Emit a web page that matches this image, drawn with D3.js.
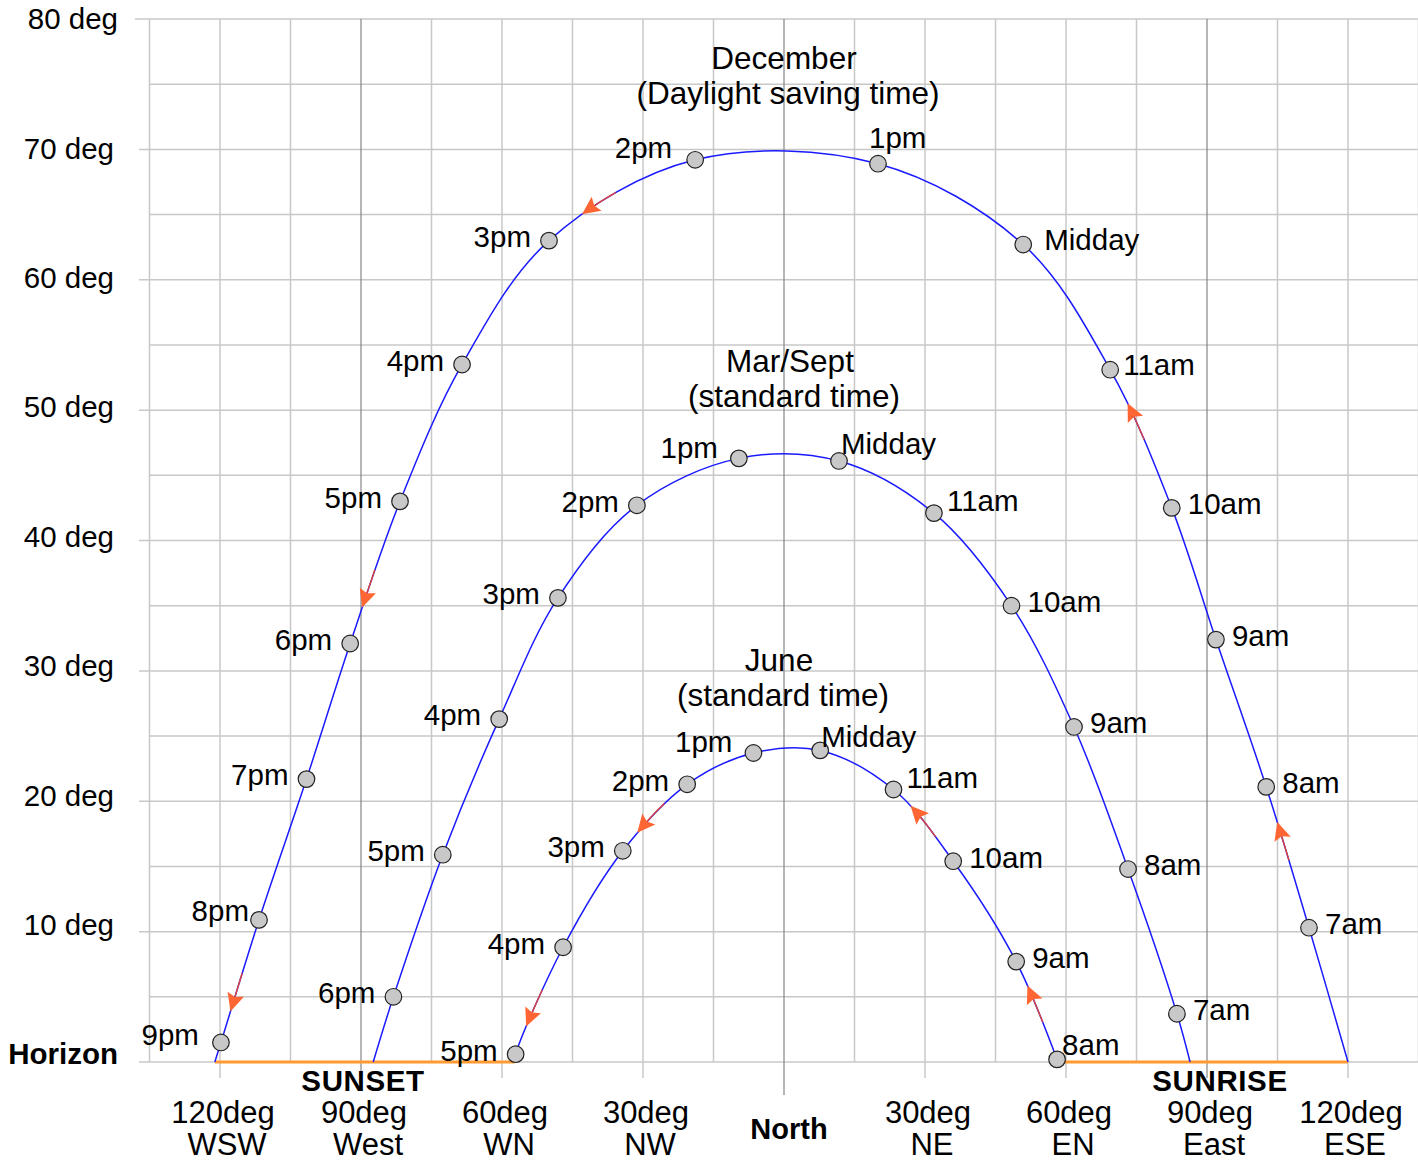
<!DOCTYPE html>
<html>
<head>
<meta charset="utf-8">
<script src="https://cdn.jsdelivr.net/npm/d3@7"></script>
<style>
body { margin: 0; background: #fff; }
svg text { font-family: "Liberation Sans", Arial, sans-serif; fill: #000; }
</style>
</head>
<body>
<svg class="chart-sun" width="1418" height="1162"></svg>
<script>
// hour marks: [label, azimuth (deg, west < 0), altitude (deg)] in time order
var decHours = [
    ['7am', 111.7, 10.3], ['8am', 102.6, 21.1], ['9am', 91.9, 32.4], ['10am', 82.5, 42.5],
    ['11am', 69.4, 53.1], ['Midday', 50.9, 62.7], ['1pm', 20.0, 68.9], ['2pm', -18.9, 69.2],
    ['3pm', -50.0, 63.0], ['4pm', -68.5, 53.5], ['5pm', -81.7, 43.0], ['6pm', -92.3, 32.1],
    ['7pm', -101.6, 21.7], ['8pm', -111.7, 10.9], ['9pm', -119.8, 1.5]
];
var marHours = [
    ['7am', 83.6, 3.7], ['8am', 73.2, 14.8], ['9am', 61.7, 25.7], ['10am', 48.4, 35.0],
    ['11am', 31.9, 42.1], ['Midday', 11.7, 46.1], ['1pm', -9.6, 46.3], ['2pm', -31.3, 42.7],
    ['3pm', -48.1, 35.6], ['4pm', -60.6, 26.3], ['5pm', -72.6, 15.9], ['6pm', -83.1, 5.0]
];
var junHours = [
    ['8am', 58.1, 0.2], ['9am', 49.4, 7.7], ['10am', 36.0, 15.4], ['11am', 23.3, 20.9],
    ['Midday', 7.7, 23.9], ['1pm', -6.5, 23.7], ['2pm', -20.6, 21.3], ['3pm', -34.3, 16.2],
    ['4pm', -47.0, 8.8], ['5pm', -57.1, 0.6]
];

// sunrise / sunset azimuth on the horizon: dec, mar, jun
var riseAz = [120.0, 86.4, 58.3];
var setAz = [-121.1, -87.4, -57.3];

var titles = [
    ['December', '(Daylight saving time)'],
    ['Mar/Sept', '(standard time)'],
    ['June', '(standard time)']
];

// direction arrows between two hour marks
var decArrows = [['7am', '8am'], ['10am', '11am'], ['2pm', '3pm'], ['5pm', '6pm'], ['8pm', '9pm']];
var marArrows = [];
var junArrows = [['8am', '9am'], ['10am', '11am'], ['2pm', '3pm'], ['4pm', '5pm']];

var altTicks = [0, 10, 20, 30, 40, 50, 60, 70, 80];
var altLabels = ['Horizon', '10 deg', '20 deg', '30 deg', '40 deg', '50 deg', '60 deg', '70 deg', '80 deg'];
var azTicks = [-120, -90, -60, -30, 0, 30, 60, 90, 120];
var azDeg = ['120deg', '90deg', '60deg', '30deg', 'North', '30deg', '60deg', '90deg', '120deg'];
var azDir = ['WSW', 'West', 'WN', 'NW', '', 'NE', 'EN', 'East', 'ESE'];

var scale = {
    x: null,
    y: null
};

// label offsets (px) that differ from the default placement
var labelNudge = [
    {'2pm': [-23, -12], '1pm': [-9, -26, 'start'], 'Midday': [21, -5], '11am': [13, -5], '9pm': [-22, -8], '8pm': [-10, -9]},
    {'1pm': [-21, -11], 'Midday': [2, -17], '11am': [13, -12]},
    {'1pm': [-21, -11], 'Midday': [1, -14], '11am': [13, -12], '8am': [5, -15]}
];
var titlePos = [[784, 69], [790, 372], [779, 671]];

var FONT = 29.5;

function start () {
    scale.x = d3.scaleLinear().domain([-135, 135]).range([149.5, 1418.5]);
    scale.y = d3.scaleLinear().domain([0, 80]).range([1062, 19]);

    var svg = d3.select('svg.chart-sun');

    drawGrid(svg);
    drawAxisText(svg);
    drawHorizon(svg);

    var hours = [decHours, marHours, junHours];
    var arrows = [decArrows, marArrows, junArrows];
    for (var i = 0; i < hours.length; i++) {
        drawCurve(svg, i, hours[i], arrows[i]);
    }
}

function drawGrid (svg) {
    var g = svg.append('g').attr('class', 'grid');

    g.selectAll('line.h')
     .data(d3.range(0, 81, 5))
     .enter()
     .append('line')
     .attr('x1', function (d) { return d % 10 == 0 ? (d == 80 ? 135 : 139) : scale.x(-135); })
     .attr('x2', scale.x(135))
     .attr('y1', function (d) { return scale.y(d); })
     .attr('y2', function (d) { return scale.y(d); })
     .attr('stroke', '#c8c8c8')
     .attr('stroke-width', 1.5);

    g.selectAll('line.v')
     .data(d3.range(-135, 136, 15))
     .enter()
     .append('line')
     .attr('x1', function (d) { return scale.x(d); })
     .attr('x2', function (d) { return scale.x(d); })
     .attr('y1', scale.y(80))
     .attr('y2', function (d) {
         if (d == 0) return 1095;
         if (d % 30 == 0 && Math.abs(d) < 135) return 1078;
         return scale.y(0);
     })
     .attr('stroke', function (d) { return d % 90 == 0 ? '#858585' : '#c8c8c8'; })
     .attr('stroke-width', function (d) { return d % 90 == 0 ? 1.2 : 1.5; });
}

function drawAxisText (svg) {
    svg.selectAll('text.alt')
       .data(altTicks)
       .enter()
       .append('text')
       .attr('class', 'alt')
       .attr('x', function (d) { return d == 80 || d == 0 ? 118 : 114; })
       .attr('y', function (d) { return scale.y(d) - (80 - d) / 10; })
       .attr('dy', '0.35em')
       .attr('text-anchor', 'end')
       .attr('font-size', FONT)
       .attr('font-weight', function (d) { return d == 0 ? 'bold' : 'normal'; })
       .text(function (d, i) { return altLabels[i]; });

    svg.selectAll('text.az')
       .data(azTicks)
       .enter()
       .append('text')
       .attr('class', 'az')
       .attr('x', function (d) { return scale.x(d) + (d == 0 ? 5 : 3); })
       .attr('y', function (d) { return d == 0 ? 1139 : 1123; })
       .attr('text-anchor', 'middle')
       .attr('font-size', function (d) { return d == 0 ? 29 : 31; })
       .attr('font-weight', function (d) { return d == 0 ? 'bold' : 'normal'; })
       .text(function (d, i) { return azDeg[i]; });

    svg.selectAll('text.dir')
       .data(azTicks)
       .enter()
       .append('text')
       .attr('class', 'dir')
       .attr('x', function (d) { return scale.x(d) + 7; })
       .attr('y', 1155)
       .attr('text-anchor', 'middle')
       .attr('font-size', 31)
       .text(function (d, i) { return azDir[i]; });

    svg.append('text')
       .attr('x', scale.x(-90) + 2)
       .attr('y', 1091)
       .attr('text-anchor', 'middle')
       .attr('font-size', 29.5)
       .attr('font-weight', 'bold')
       .attr('letter-spacing', 0.6)
       .text('SUNSET');

    svg.append('text')
       .attr('x', scale.x(90) + 13)
       .attr('y', 1091)
       .attr('text-anchor', 'middle')
       .attr('font-size', 29.5)
       .attr('font-weight', 'bold')
       .attr('letter-spacing', 0.6)
       .text('SUNRISE');
}

function drawHorizon (svg) {
    var spans = [
        [d3.min(setAz), d3.max(setAz)],
        [d3.min(riseAz), d3.max(riseAz)]
    ];
    svg.selectAll('line.horizon')
       .data(spans)
       .enter()
       .append('line')
       .attr('x1', function (d) { return scale.x(d[0]); })
       .attr('x2', function (d) { return scale.x(d[1]); })
       .attr('y1', scale.y(0))
       .attr('y2', scale.y(0))
       .attr('stroke', '#ff9a33')
       .attr('stroke-width', 3);
}

function lengthNear (node, px, py) {
    var total = node.getTotalLength();
    var best = 0, bestD = Infinity;
    for (var l = 0; l <= total; l += 1) {
        var p = node.getPointAtLength(l);
        var d = (p.x - px) * (p.x - px) + (p.y - py) * (p.y - py);
        if (d < bestD) { bestD = d; best = l; }
    }
    return best;
}

function drawCurve (svg, k, hours, arrows) {
    var pts = [['rise', riseAz[k], 0]].concat(hours).concat([['set', setAz[k], 0]]);

    var line = d3.line()
        .x(function (d) { return scale.x(d[1]); })
        .y(function (d) { return scale.y(d[2]); })
        .curve(d3.curveCatmullRom.alpha(0.5));

    var path = svg.append('path')
        .datum(pts)
        .attr('d', line)
        .attr('fill', 'none')
        .attr('stroke', '#1a1aff')
        .attr('stroke-width', 1.5);

    var node = path.node();
    var byName = {};
    hours.forEach(function (h) { byName[h[0]] = h; });

    arrows.forEach(function (a) {
        var h0 = byName[a[0]], h1 = byName[a[1]];
        var l0 = lengthNear(node, scale.x(h0[1]), scale.y(h0[2]));
        var l1 = lengthNear(node, scale.x(h1[1]), scale.y(h1[2]));
        var lt = l0 + 0.75 * (l1 - l0);
        var tip = node.getPointAtLength(lt);
        var back = node.getPointAtLength(lt - 3);
        var ux = tip.x - back.x, uy = tip.y - back.y;
        var n = Math.sqrt(ux * ux + uy * uy);
        ux /= n; uy /= n;

        // thin red stem behind the head
        var stem = d3.range(lt - 40, lt - 10, 2).map(function (l) {
            var p = node.getPointAtLength(l);
            return [p.x, p.y];
        });
        svg.append('path')
           .attr('d', d3.line()(stem))
           .attr('fill', 'none')
           .attr('stroke', '#e0453a')
           .attr('stroke-width', 1.4);

        var bx = tip.x - ux * 18, by = tip.y - uy * 18;
        var nx = -uy, ny = ux;
        var head = [
            [tip.x, tip.y],
            [bx + nx * 8.5, by + ny * 8.5],
            [tip.x - ux * 15, tip.y - uy * 15],
            [bx - nx * 8.5, by - ny * 8.5]
        ];
        svg.append('polygon')
           .attr('points', head.map(function (p) { return p[0] + ',' + p[1]; }).join(' '))
           .attr('fill', '#ff6633');
    });

    svg.selectAll('circle.c' + k)
       .data(hours)
       .enter()
       .append('circle')
       .attr('class', 'c' + k)
       .attr('cx', function (d) { return scale.x(d[1]); })
       .attr('cy', function (d) { return scale.y(d[2]); })
       .attr('r', 8.3)
       .attr('fill', '#c8c8c8')
       .attr('stroke', '#222')
       .attr('stroke-width', 1.2);

    svg.selectAll('text.t' + k)
       .data(hours)
       .enter()
       .append('text')
       .attr('class', 't' + k)
       .each(function (d) {
           var am = d[0].indexOf('am') > 0 || d[0] == 'Midday';
           var nudge = labelNudge[k][d[0]] || [am ? 16 : -18, -4];
           var anchor = nudge[2] || (am ? 'start' : 'end');
           d3.select(this)
             .attr('x', scale.x(d[1]) + nudge[0])
             .attr('y', scale.y(d[2]) + nudge[1])
             .attr('dy', '0.35em')
             .attr('text-anchor', anchor);
       })
       .attr('font-size', FONT)
       .text(function (d) { return d[0]; });

    var tp = titlePos[k];
    svg.append('text')
       .attr('x', tp[0])
       .attr('y', tp[1])
       .attr('text-anchor', 'middle')
       .attr('font-size', 31.5)
       .text(titles[k][0]);
    svg.append('text')
       .attr('x', tp[0] + 4)
       .attr('y', tp[1] + 35)
       .attr('text-anchor', 'middle')
       .attr('font-size', 31.5)
       .text(titles[k][1]);
}

start();
</script>
</body>
</html>
